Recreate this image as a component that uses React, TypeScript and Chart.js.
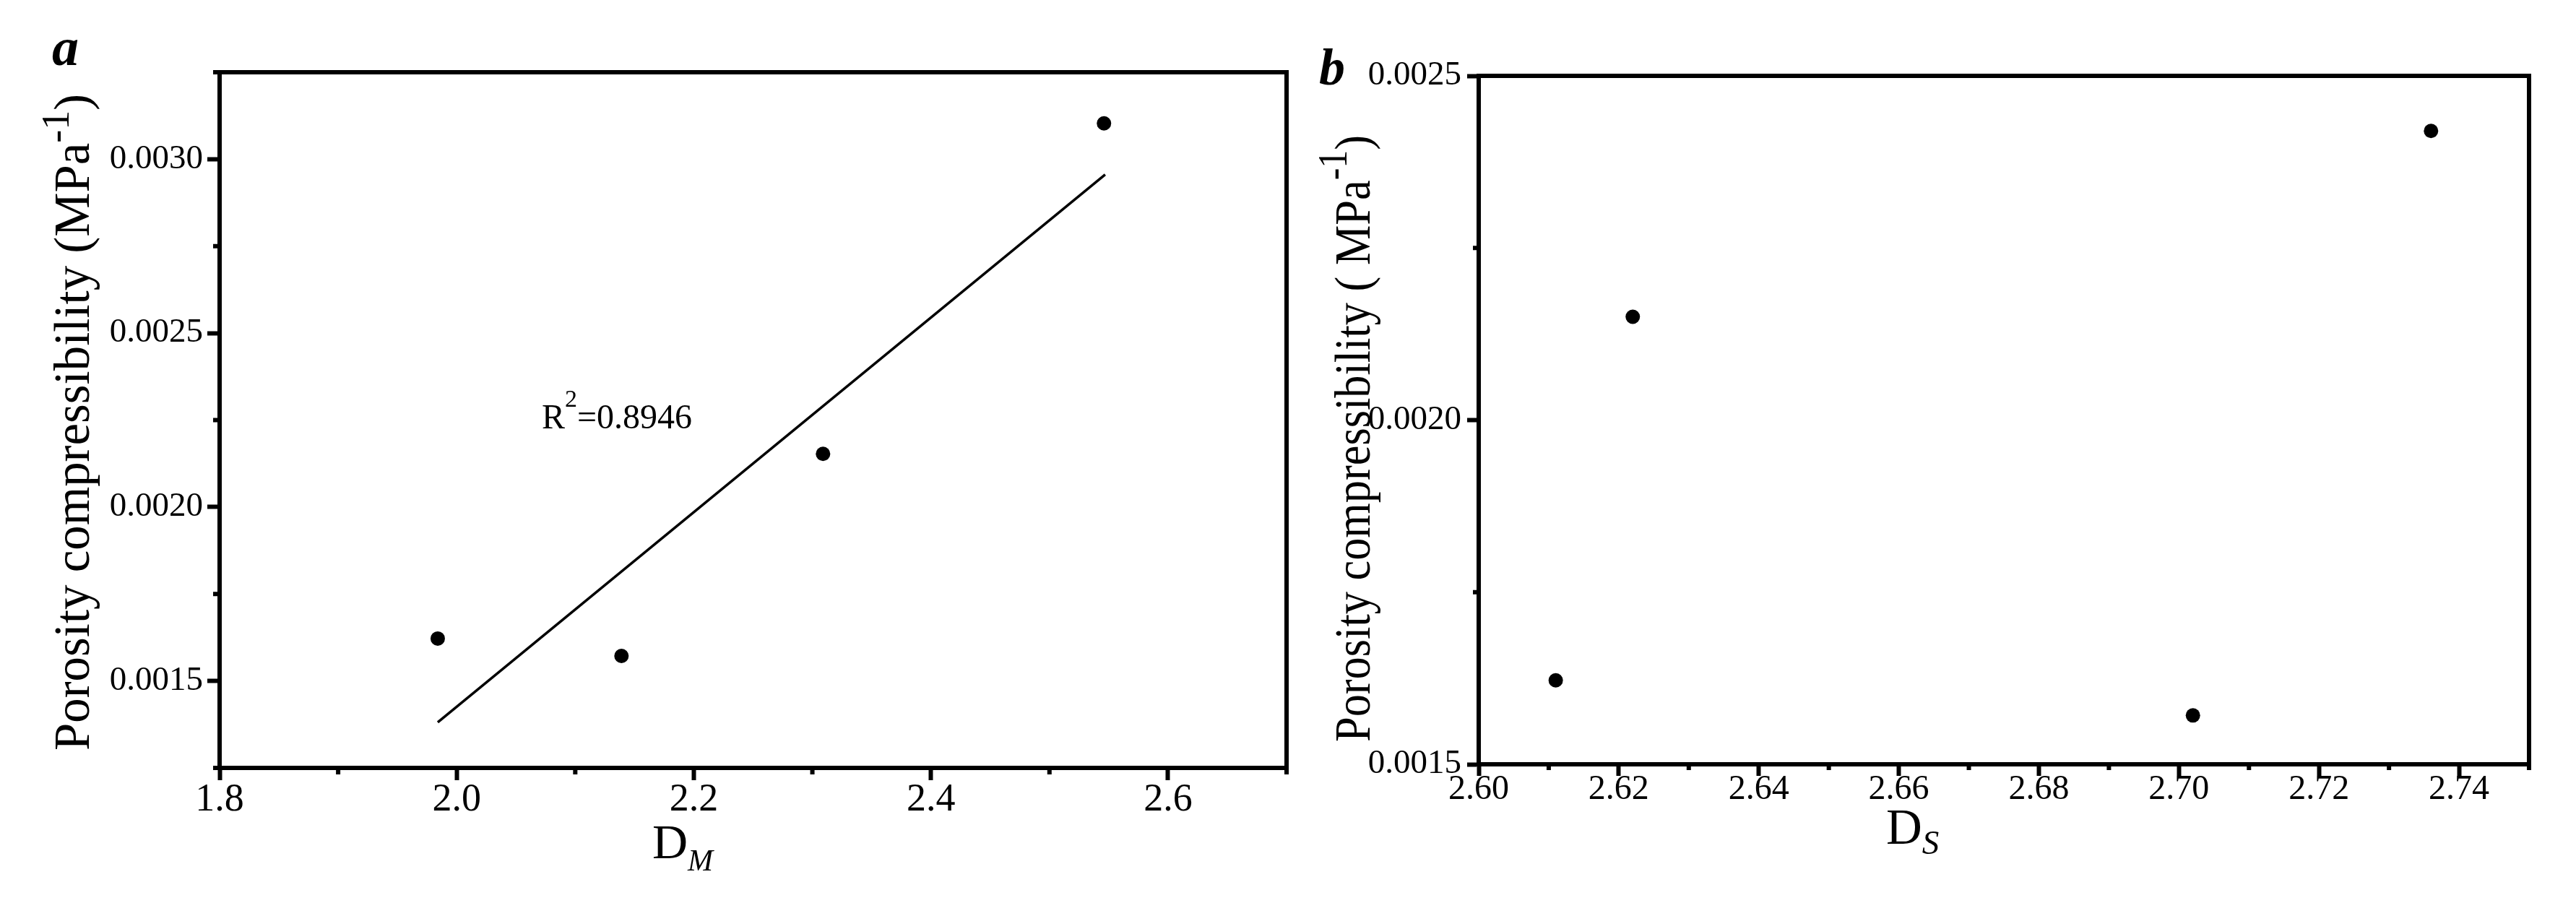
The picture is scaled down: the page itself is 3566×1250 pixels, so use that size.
import React, { useEffect, useRef } from 'react';
import { Chart, registerables } from 'chart.js';

Chart.register(...registerables);

// ---------- data ----------
const dmValues = [1.984, 2.139, 2.309, 2.546];
const pcValuesA = [0.001622, 0.001572, 0.002153, 0.003103];
const fitX = [1.984, 2.547];
const fitY = [0.001381, 0.002956];
const r2Text = ['R', '2', '=0.8946'];

const dsValues = [2.611, 2.622, 2.702, 2.736];
const pcValuesB = [0.001622, 0.00215, 0.001571, 0.00242];

const xMajorA = [1.8, 2.0, 2.2, 2.4, 2.6];
const xMinorA = [1.9, 2.1, 2.3, 2.5, 2.7];
const yMajorA = [0.0015, 0.002, 0.0025, 0.003];
const yMinorA = [0.00125, 0.00175, 0.00225, 0.00275, 0.00325];

const xMajorB = [2.6, 2.62, 2.64, 2.66, 2.68, 2.7, 2.72, 2.74];
const xMinorB = [2.61, 2.63, 2.65, 2.67, 2.69, 2.71, 2.73, 2.75];
const yMajorB = [0.0015, 0.002, 0.0025];
const yMinorB = [0.00175, 0.00225];

const yTitleMain = 'Porosity compressibility (MPa';
const yTitleMainB = 'Porosity compressibility ( MPa';
const yTitleSup = '-1';
const yTitleEnd = ')';

const FONT = "'Liberation Serif', 'Times New Roman', serif";

type Part = { text: string; size: number; rise: number; style?: string };

function drawParts(ctx: CanvasRenderingContext2D, parts: Part[], x: number, y: number, rotate: boolean, targetLen?: number, center?: boolean) {
  ctx.save();
  ctx.fillStyle = '#000';
  ctx.textBaseline = 'alphabetic';
  ctx.textAlign = 'left';
  const widths = parts.map((p) => {
    ctx.font = `${p.style || ''} ${p.size}px ${FONT}`;
    return ctx.measureText(p.text).width;
  });
  const total = widths.reduce((a, b) => a + b, 0);
  ctx.translate(x, y);
  if (rotate) ctx.rotate(-Math.PI / 2);
  const s = targetLen ? targetLen / total : 1;
  ctx.scale(s, 1);
  let cx = center ? -total / 2 : 0;
  parts.forEach((p, i) => {
    ctx.font = `${p.style || ''} ${p.size}px ${FONT}`;
    ctx.fillText(p.text, cx, -p.rise);
    cx += widths[i];
  });
  ctx.restore();
}

type PanelSpec = {
  xs: number[];
  ys: number[];
  fit?: { x: number[]; y: number[] };
  xMin: number;
  xMax: number;
  yMin: number;
  yMax: number;
  xMajor: number[];
  xMinor: number[];
  yMajor: number[];
  yMinor: number[];
  xDigits: number;
  padding: { left: number; top: number; right: number; bottom: number };
  yWidth: number;
  xHeight: number;
  xFont: number;
  yFont: number;
  xPad: number;
  yPad: number;
  xLineHeight: number;
  tickLen: number;
  minorLen: number;
  drawText: (ctx: CanvasRenderingContext2D) => void;
};

function makeConfig(p: PanelSpec): any {
  const framePlugin = {
    id: 'frameAndMinor',
    afterDraw(chart: any) {
      const ctx = chart.ctx as CanvasRenderingContext2D;
      const ca = chart.chartArea;
      const xs = chart.scales.x;
      const ys = chart.scales.y;
      ctx.save();
      ctx.strokeStyle = '#000';
      ctx.lineWidth = 6;
      ctx.lineJoin = 'miter';
      ctx.beginPath();
      p.xMinor.forEach((v) => {
        const px = xs.getPixelForValue(v);
        ctx.moveTo(px, ca.bottom);
        ctx.lineTo(px, ca.bottom + 3 + p.minorLen);
      });
      p.yMinor.forEach((v) => {
        const py = ys.getPixelForValue(v);
        ctx.moveTo(ca.left, py);
        ctx.lineTo(ca.left - 3 - p.minorLen, py);
      });
      ctx.stroke();
      ctx.strokeRect(ca.left, ca.top, ca.right - ca.left, ca.bottom - ca.top);
      ctx.restore();
      p.drawText(ctx);
    },
  };

  const datasets: any[] = [
    {
      data: p.xs.map((x, i) => ({ x, y: p.ys[i] })),
      pointRadius: 10,
      pointBackgroundColor: '#000',
      pointBorderWidth: 0,
      showLine: false,
    },
  ];
  if (p.fit) {
    datasets.push({
      data: p.fit.x.map((x, i) => ({ x, y: p.fit!.y[i] })),
      showLine: true,
      pointRadius: 0,
      borderColor: '#000',
      borderWidth: 3.5,
      fill: false,
    });
  }

  return {
    type: 'scatter',
    data: { datasets },
    options: {
      responsive: false,
      maintainAspectRatio: false,
      animation: false,
      events: [],
      layout: { padding: p.padding },
      plugins: { legend: { display: false }, tooltip: { enabled: false }, title: { display: false } },
      scales: {
        x: {
          type: 'linear',
          min: p.xMin,
          max: p.xMax,
          afterBuildTicks: (s: any) => {
            s.ticks = p.xMajor.map((v) => ({ value: v }));
          },
          afterFit: (s: any) => {
            s.height = p.xHeight;
          },
          ticks: {
            autoSkip: false,
            maxRotation: 0,
            minRotation: 0,
            color: '#000',
            padding: p.xPad,
            font: { family: FONT, size: p.xFont, lineHeight: p.xLineHeight },
            callback: (v: any) => Number(v).toFixed(p.xDigits),
          },
          grid: { drawOnChartArea: false, drawTicks: true, tickLength: p.tickLen, tickWidth: 6, tickColor: '#000' },
          border: { display: true, color: '#000', width: 6 },
        },
        y: {
          type: 'linear',
          min: p.yMin,
          max: p.yMax,
          afterBuildTicks: (s: any) => {
            s.ticks = p.yMajor.map((v) => ({ value: v }));
          },
          afterFit: (s: any) => {
            s.width = p.yWidth;
          },
          ticks: {
            autoSkip: false,
            color: '#000',
            padding: p.yPad,
            font: { family: FONT, size: p.yFont },
            callback: (v: any) => Number(v).toFixed(4),
          },
          grid: { drawOnChartArea: false, drawTicks: true, tickLength: p.tickLen, tickWidth: 6, tickColor: '#000' },
          border: { display: true, color: '#000', width: 6 },
        },
      },
    },
    plugins: [framePlugin],
  };
}

const panelA: PanelSpec = {
  xs: dmValues,
  ys: pcValuesA,
  fit: { x: fitX, y: fitY },
  xMin: 1.8,
  xMax: 2.7,
  yMin: 0.00125,
  yMax: 0.00325,
  xMajor: xMajorA,
  xMinor: xMinorA,
  yMajor: yMajorA,
  yMinor: yMinorA,
  xDigits: 1,
  padding: { left: 0, top: 100, right: 19, bottom: 0 },
  yWidth: 304,
  xHeight: 187,
  xFont: 54,
  yFont: 47,
  xPad: 1,
  yPad: 6,
  xLineHeight: 1,
  tickLen: 17,
  minorLen: 6,
  drawText: (ctx) => {
    drawParts(ctx, [{ text: 'a', size: 74, rise: 0, style: 'italic bold' }], 72, 90, false);
    drawParts(
      ctx,
      [
        { text: yTitleMain, size: 69, rise: 0 },
        { text: yTitleSup, size: 54, rise: 28 },
        { text: yTitleEnd, size: 69, rise: 0 },
      ],
      123,
      584.5,
      true,
      909,
      true
    );
    drawParts(
      ctx,
      [
        { text: r2Text[0], size: 48, rise: 0 },
        { text: r2Text[1], size: 34, rise: 30 },
        { text: r2Text[2], size: 48, rise: 0 },
      ],
      750,
      593,
      false
    );
    drawParts(
      ctx,
      [
        { text: 'D', size: 68, rise: 0 },
        { text: 'M', size: 42, rise: -17, style: 'italic' },
      ],
      903,
      1188,
      false
    );
  },
};

const panelB: PanelSpec = {
  xs: dsValues,
  ys: pcValuesB,
  xMin: 2.6,
  xMax: 2.75,
  yMin: 0.0015,
  yMax: 0.0025,
  xMajor: xMajorB,
  xMinor: xMinorB,
  yMajor: yMajorB,
  yMinor: yMinorB,
  xDigits: 2,
  padding: { left: 0, top: 105, right: 65, bottom: 0 },
  yWidth: 247,
  xHeight: 192,
  xFont: 48,
  yFont: 47,
  xPad: 0,
  yPad: 8,
  xLineHeight: 0.8,
  tickLen: 16,
  minorLen: 5,
  drawText: (ctx) => {
    drawParts(ctx, [{ text: 'b', size: 72, rise: 0, style: 'italic bold' }], 26, 117, false);
    drawParts(
      ctx,
      [
        { text: yTitleMainB, size: 70, rise: 0 },
        { text: yTitleSup, size: 56, rise: 32 },
        { text: yTitleEnd, size: 70, rise: 0 },
      ],
      96,
      607,
      true,
      840,
      true
    );
    drawParts(
      ctx,
      [
        { text: 'D', size: 69, rise: 0 },
        { text: 'S', size: 47, rise: -14, style: 'italic' },
      ],
      811,
      1168,
      false
    );
  },
};

function Panel({ spec, left, width }: { spec: PanelSpec; left: number; width: number }) {
  const ref = useRef<HTMLCanvasElement | null>(null);
  useEffect(() => {
    if (!ref.current) return;
    const chart = new Chart(ref.current, makeConfig(spec));
    return () => chart.destroy();
  }, [spec]);
  return (
    <canvas
      ref={ref}
      width={width}
      height={1250}
      style={{ position: 'absolute', left, top: 0, width, height: 1250 }}
    />
  );
}

export default function App() {
  return (
    <div style={{ position: 'absolute', left: 0, top: 0, width: 3566, height: 1250, background: '#fff' }}>
      <Panel spec={panelA} left={0} width={1800} />
      <Panel spec={panelB} left={1800} width={1766} />
    </div>
  );
}
